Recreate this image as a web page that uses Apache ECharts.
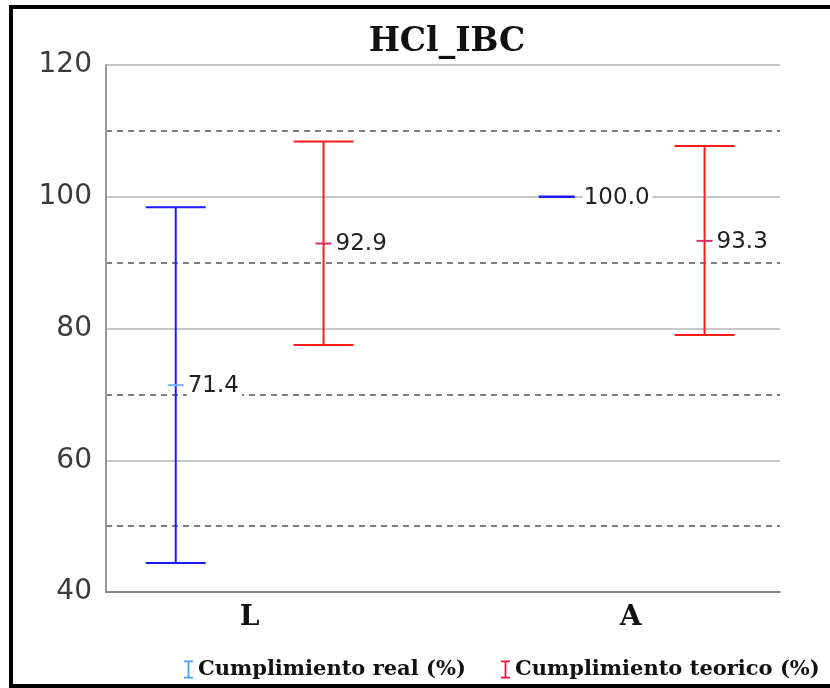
<!DOCTYPE html>
<html><head><meta charset="utf-8">
<script src="https://cdn.jsdelivr.net/npm/echarts@6/dist/echarts.min.js"></script>
<style>html,body{margin:0;padding:0;background:#fff}#c{width:830px;height:688px}</style>
</head><body><div id="c"></div>
<script>
const categories = ['L', 'A'];
const realLow = [44.4, 100.0];
const realHigh = [98.4, 100.0];
const realMean = [71.4, 100.0];
const teoLow = [77.5, 79.0];
const teoHigh = [108.4, 107.7];
const teoMean = [92.9, 93.3];
const seriesNames = ['Cumplimiento real (%)', 'Cumplimiento teorico (%)'];
const yMin = 40, yMax = 120, yStep = 20;

function build(low, high, mean) {
  return categories.map((c, i) => [i, low[i], high[i], mean[i]]);
}

function makeRender(offsetFrac, color, meanColor) {
  return function (params, api) {
    const idx = api.value(0);
    const lo = api.value(1), hi = api.value(2), mu = api.value(3);
    const unit = api.size([1, 0])[0];
    const pHi = api.coord([idx, hi]);
    const pLo = api.coord([idx, lo]);
    const pMu = api.coord([idx, mu]);
    const x = pHi[0] + offsetFrac * unit;
    const cap = 30;
    const ls = { stroke: color, lineWidth: 2 };
    const children = [];
    let labelX;
    if (hi !== lo) {
      children.push({ type: 'line', shape: { x1: x, y1: pHi[1], x2: x, y2: pLo[1] }, style: ls });
      children.push({ type: 'line', shape: { x1: x - cap, y1: pHi[1], x2: x + cap, y2: pHi[1] }, style: ls });
      children.push({ type: 'line', shape: { x1: x - cap, y1: pLo[1], x2: x + cap, y2: pLo[1] }, style: ls });
      children.push({ type: 'line', shape: { x1: x - 8, y1: pMu[1], x2: x + 8, y2: pMu[1] }, style: { stroke: meanColor, lineWidth: 2 } });
      labelX = x + 11;
    } else {
      children.push({ type: 'line', shape: { x1: x - 18, y1: pMu[1], x2: x + 18, y2: pMu[1] }, style: { stroke: color, lineWidth: 2.5 } });
      labelX = x + 26;
    }
    children.push({
      type: 'text',
      style: {
        text: mu.toFixed(1), x: labelX, y: pMu[1] + 1,
        fill: '#222', font: '23px "DejaVu Sans"',
        verticalAlign: 'middle', align: 'left',
        backgroundColor: '#fff', padding: [0, 3, 0, 1]
      }
    });
    return { type: 'group', children };
  };
}

const iconPath = 'path://M0,0H10V2H6V18H10V20H0V18H4V2H0Z';
const legendText = { fontFamily: '"DejaVu Serif"', fontWeight: 'bold', fontSize: 21, color: '#111' };

const chart = echarts.init(document.getElementById('c'), null, { renderer: 'canvas' });
chart.setOption({
  backgroundColor: '#fff',
  animation: false,
  title: {
    text: 'HCl_IBC', left: 442, top: 21, textAlign: 'center',
    textStyle: { fontFamily: '"DejaVu Serif"', fontWeight: 'bold', fontSize: 33, color: '#111' }
  },
  legend: [
    {
      left: 184, top: 659, padding: 0, itemWidth: 9, itemHeight: 18, textStyle: legendText,
      data: [{ name: seriesNames[0], icon: iconPath, itemStyle: { color: '#4a9ff0' } }]
    },
    {
      left: 501, top: 659, padding: 0, itemWidth: 9, itemHeight: 18, textStyle: legendText,
      data: [{ name: seriesNames[1], icon: iconPath, itemStyle: { color: '#e8143f' } }]
    }
  ],
  grid: { left: 106, right: 50, top: 65, bottom: 96 },
  xAxis: {
    type: 'value', min: -0.377, max: 1.392,
    axisLine: { show: true, onZero: false, lineStyle: { color: '#888', width: 2 } },
    axisTick: { show: false },
    axisLabel: {
      customValues: categories.map((c, i) => i),
      formatter: v => categories[Math.round(v)] || '',
      margin: 12, fontFamily: '"DejaVu Serif"', fontWeight: 'bold', fontSize: 28, color: '#111'
    },
    splitLine: { show: false }
  },
  yAxis: {
    type: 'value', min: yMin, max: yMax, interval: yStep,
    axisLine: { show: true, onZero: false, lineStyle: { color: '#999', width: 2 } },
    axisTick: { show: false },
    axisLabel: { margin: 14, fontFamily: '"DejaVu Sans"', fontSize: 28, color: '#3a3a3a' },
    splitLine: { show: true, lineStyle: { color: '#b5b5b5', width: 1.5 } },
    minorTick: { show: false, splitNumber: 2 },
    minorSplitLine: { show: true, lineStyle: { color: '#555', width: 1.5, type: [6, 5] } }
  },
  series: [
    {
      name: seriesNames[0], type: 'custom', itemStyle: { color: '#4a9ff0' },
      renderItem: makeRender(-0.194, '#1a1aff', '#7ab6ff'),
      encode: { x: 0, y: [1, 2, 3] },
      data: build(realLow, realHigh, realMean), z: 5
    },
    {
      name: seriesNames[1], type: 'custom', itemStyle: { color: '#e8143f' },
      renderItem: makeRender(0.194, '#ff1a1a', '#d8306a'),
      encode: { x: 0, y: [1, 2, 3] },
      data: build(teoLow, teoHigh, teoMean), z: 5
    }
  ],
  graphic: [
    { type: 'rect', shape: { x: 9, y: 5, width: 821, height: 4 }, style: { fill: '#000' }, silent: true },
    { type: 'rect', shape: { x: 9, y: 5, width: 4, height: 683 }, style: { fill: '#000' }, silent: true },
    { type: 'rect', shape: { x: 9, y: 684, width: 821, height: 4 }, style: { fill: '#000' }, silent: true }
  ]
});
</script></body></html>
